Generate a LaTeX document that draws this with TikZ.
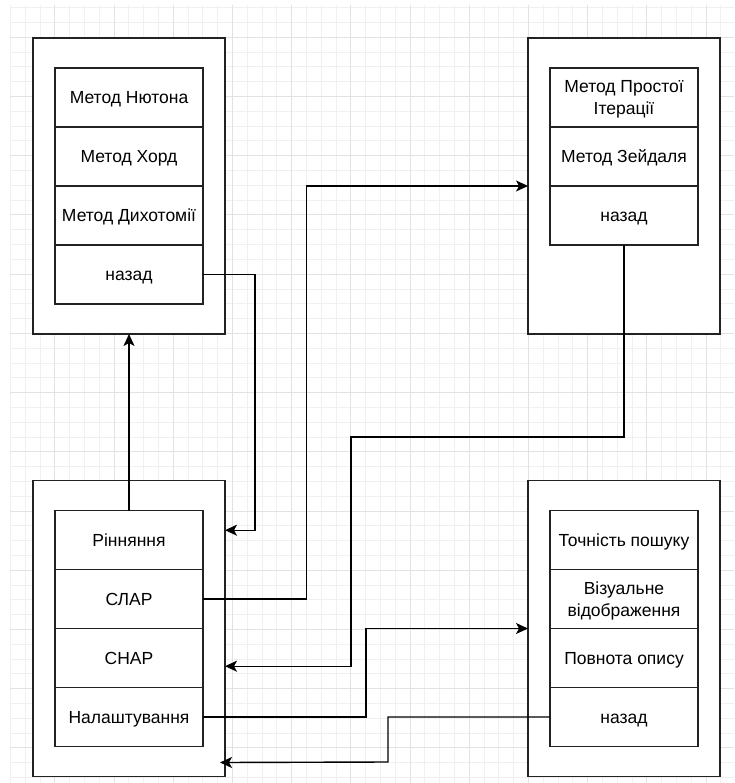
\documentclass[tikz,border=0pt]{standalone}
\usepackage{fontspec}
\setmainfont{Liberation Sans}
\usetikzlibrary{positioning, arrows.meta}
\definecolor{gridminor}{HTML}{F0F0F0}
\definecolor{gridmajor}{HTML}{E2E2E2}
\definecolor{linedark}{HTML}{222222}

\begin{document}
\begin{tikzpicture}[x=1pt, y=-1pt,
    menu/.style={draw=linedark, fill=white, line width=1.4pt, minimum width=192pt, minimum height=296pt, inner sep=0pt, outer sep=0pt},
    item/.style={draw=linedark, fill=white, line width=1.4pt, minimum width=148pt, minimum height=59pt, inner sep=2pt, outer sep=0pt, align=center, font=\fontsize{17.5}{21.5}\selectfont, text=black, text depth=0pt, execute at begin node=\vphantom{Н}},
    link/.style={-{Stealth[length=12pt, width=11pt, inset=3pt]}, line width=1.4pt, draw=black}]
  \fill[white] (0,0) rectangle (734,783);
  \useasboundingbox (0,0) rectangle (734,783);
  % background grid
  \foreach \i in {0,...,48} \draw[gridminor, line width=0.8pt] ({10.3+14.8*\i},5) -- ({10.3+14.8*\i},783);
  \foreach \j in {0,...,52} \draw[gridminor, line width=0.8pt] (10,{7.7+14.8*\j}) -- (734,{7.7+14.8*\j});
  \foreach \i in {0,...,11} \draw[gridmajor, line width=0.8pt] ({54.7+59.2*\i},5) -- ({54.7+59.2*\i},783);
  \foreach \j in {0,...,12} \draw[gridmajor, line width=0.8pt] (10,{37.3+59.2*\j}) -- (734,{37.3+59.2*\j});

  % equations menu
  \node[menu] (eqMenu) at (129,186) {};
  \node[item, below right=30pt and 22pt of eqMenu.north west] (newton) {Метод Нютона};
  \node[item, below=0pt of newton] (chord) {Метод Хорд};
  \node[item, below=0pt of chord] (dicho) {Метод Дихотомії};
  \node[item, below=0pt of dicho] (eqBack) {назад};

  % linear systems menu
  \node[menu] (slarMenu) at (624,186) {};
  \node[item, below right=30pt and 22pt of slarMenu.north west] (iter) {Метод Простої\\Ітерації};
  \node[item, below=0pt of iter] (seidel) {Метод Зейдаля};
  \node[item, below=0pt of seidel] (slarBack) {назад};

  % main menu
  \node[menu] (mainMenu) at (129,628.5) {};
  \node[item, below right=30pt and 22pt of mainMenu.north west] (rinn) {Рінняння};
  \node[item, below=0pt of rinn] (slar) {СЛАР};
  \node[item, below=0pt of slar] (snar) {СНАР};
  \node[item, below=0pt of snar] (settings) {Налаштування};

  % settings menu
  \node[menu] (setMenu) at (624,628.5) {};
  \node[item, below right=30pt and 22pt of setMenu.north west] (accuracy) {Точність пошуку};
  \node[item, below=0pt of accuracy] (visual) {Візуальне\\відображення};
  \node[item, below=0pt of visual] (fullness) {Повнота опису};
  \node[item, below=0pt of fullness] (setBack) {назад};

  % connectors
  \draw[link] (eqBack.east) -- ++(52,0) |- ([yshift=-49.7pt]mainMenu.north east);
  \draw[link] (rinn.north) -- (eqMenu.south);
  \draw[link] (slar.east) -- ++(103.5,0) |- (slarMenu.west);
  \draw[link] (slarBack.south) |- (351,437) |- ([yshift=-185.7pt]mainMenu.north east);
  \draw[link] (settings.east) -- ++(163,0) |- (setMenu.west);
  \draw[link] (setBack.west) -| (388,762) -- ([xshift=-5pt, yshift=14pt]mainMenu.south east);
\end{tikzpicture}
\end{document}
